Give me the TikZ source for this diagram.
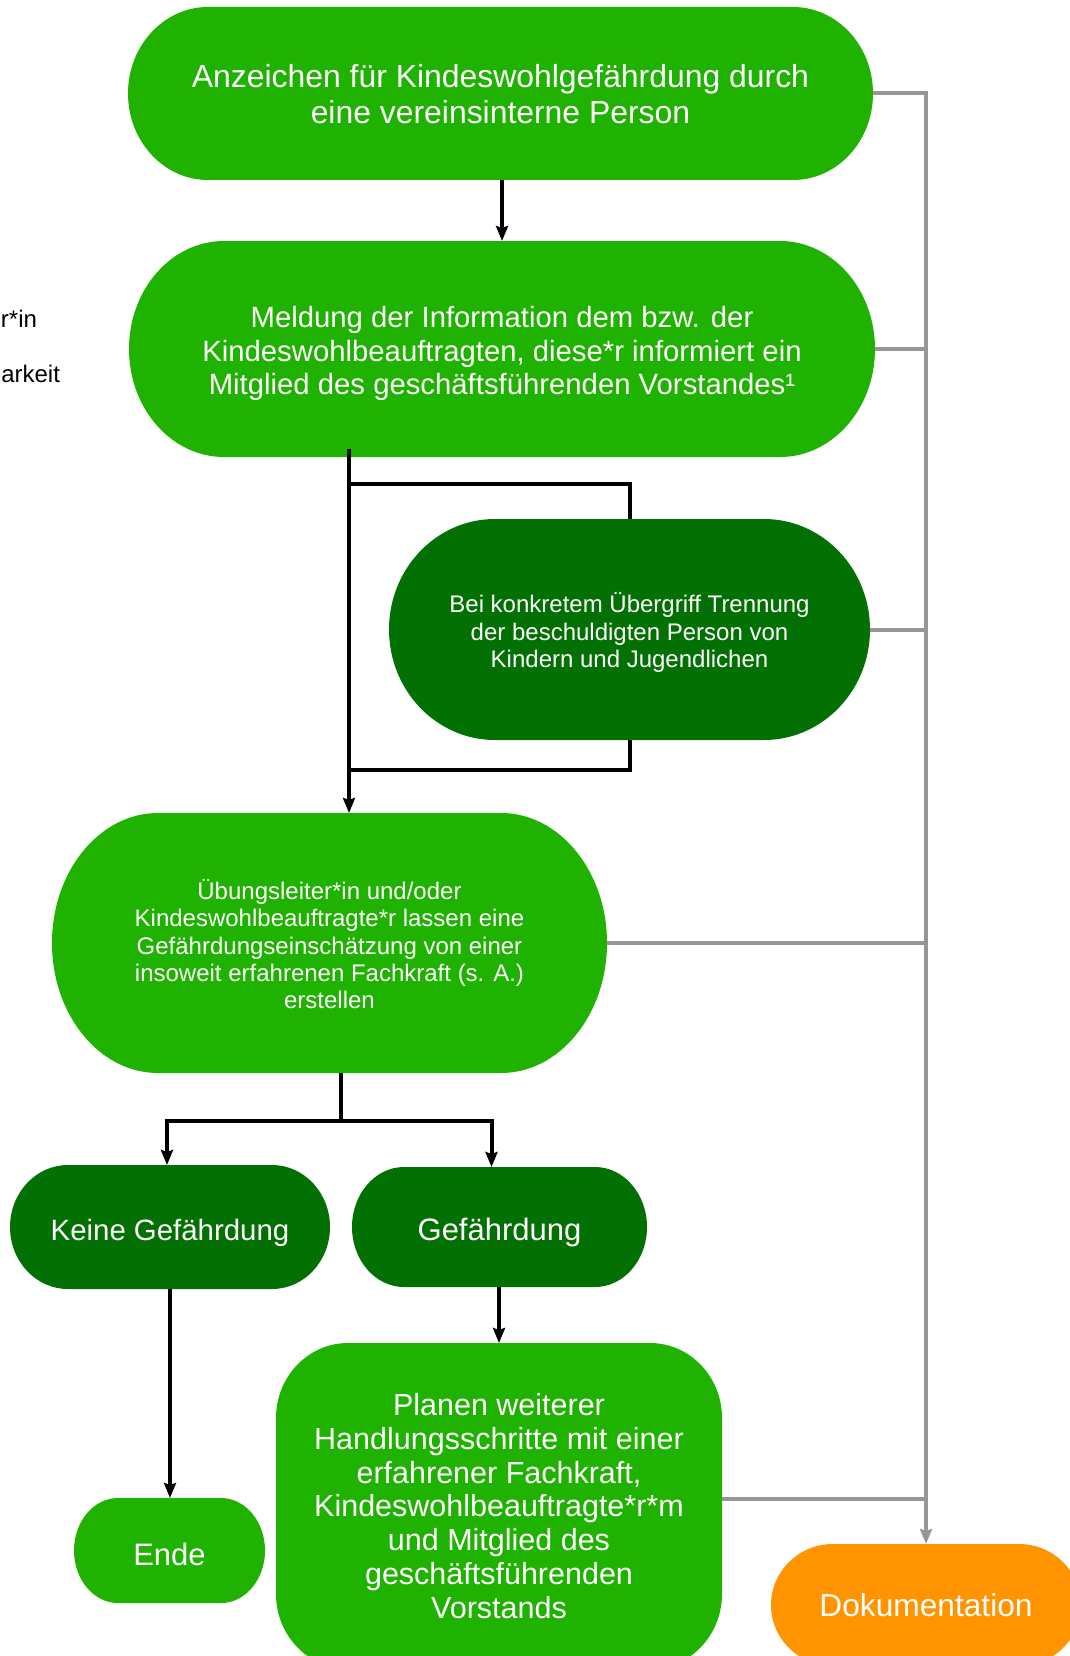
\documentclass[tikz,border=0pt]{standalone}
\usepackage{fontspec}
\setmainfont{Liberation Sans}
\usetikzlibrary{arrows.meta,calc}
\pgfdeclarelayer{bg}
\pgfsetlayers{bg,main}
\definecolor{gA}{RGB}{31,178,0}
\definecolor{gD}{RGB}{2,112,2}
\definecolor{orA}{RGB}{255,148,0}
\definecolor{grL}{RGB}{150,150,150}
\newcommand\pillshape[4]{%
  \begin{pgfonlayer}{bg}
  \fill[#4] ([xshift=#2]#1.north west) -- ([xshift=-#2]#1.north east)
     arc[start angle=90, end angle=0, x radius=#2, y radius=#3]
     -- ([yshift=#3]#1.south east)
     arc[start angle=0, end angle=-90, x radius=#2, y radius=#3]
     -- ([xshift=#2]#1.south west)
     arc[start angle=270, end angle=180, x radius=#2, y radius=#3]
     -- ([yshift=-#3]#1.north west)
     arc[start angle=180, end angle=90, x radius=#2, y radius=#3]
     -- cycle;
  \end{pgfonlayer}}
\newcommand\dn[2]{\raisebox{-#1}[\height][\depth]{\begin{tabular}{@{}c@{}}#2\end{tabular}}}
\begin{document}
\begin{tikzpicture}[x=1pt,y=-1pt,
  box/.style={draw=none, inner sep=0pt, outer sep=0pt, text=white, align=center},
  blk/.style={draw=black, line width=4pt},
  blkarr/.style={blk, -{Stealth[length=15pt,width=12pt,inset=2pt]}},
  gry/.style={draw=grL, line width=4pt},
  gryarr/.style={gry, -{Stealth[length=15pt,width=12pt,inset=2pt]}},
  frag/.style={anchor=base east, inner sep=0pt, outer sep=0pt, text=black, font=\fontsize{24}{27}\selectfont}
]
\useasboundingbox (0,0) rectangle (1070,1656);
\clip (0,0) rectangle (1070,1656);

% nodes
\node[box, minimum width=745pt, minimum height=173pt, font=\fontsize{31.9}{36}\selectfont] (A) at (500.5,93.5)
  {\dn{5.2pt}{Anzeichen für Kindeswohlgefährdung durch\\eine vereinsinterne Person}};
\node[box, minimum width=746pt, minimum height=216pt, font=\fontsize{29.3}{33.3}\selectfont] (B) at (502,349)
  {\dn{5.6pt}{Meldung der Information dem bzw. der\\Kindeswohlbeauftragten, diese*r informiert ein\\Mitglied des geschäftsführenden Vorstandes¹}};
\node[box, minimum width=481pt, minimum height=221pt, font=\fontsize{24}{27.5}\selectfont] (C) at (629.5,629.5)
  {\dn{5pt}{Bei konkretem Übergriff Trennung\\der beschuldigten Person von\\Kindern und Jugendlichen}};
\node[box, minimum width=555pt, minimum height=260pt, font=\fontsize{24}{27.2}\selectfont] (D) at (329.5,943)
  {\dn{5.2pt}{Übungsleiter*in und/oder\\Kindeswohlbeauftragte*r lassen eine\\Gefährdungseinschätzung von einer\\insoweit erfahrenen Fachkraft (s. A.)\\erstellen}};
\node[box, minimum width=320pt, minimum height=124pt, font=\fontsize{29.4}{33}\selectfont] (E) at (170,1227)
  {\dn{7pt}{Keine Gefährdung}};
\node[box, minimum width=295pt, minimum height=120pt, font=\fontsize{31}{35}\selectfont] (F) at (499.5,1227)
  {\dn{6pt}{Gefährdung}};
\node[box, minimum width=191pt, minimum height=105pt, font=\fontsize{31}{35}\selectfont] (G) at (169.5,1550.5)
  {\dn{8.2pt}{Ende}};
\node[box, minimum width=446pt, minimum height=326pt, font=\fontsize{30.5}{33.7}\selectfont] (H) at (499,1506)
  {Planen weiterer\\Handlungsschritte mit einer\\erfahrener Fachkraft,\\Kindeswohlbeauftragte*r*m\\und Mitglied des\\geschäftsführenden\\Vorstands};
\node[box, minimum width=310pt, minimum height=122pt, font=\fontsize{31.7}{36}\selectfont] (I) at (926,1605)
  {Dokumentation};

\node[frag] (f1) at (37,327) {r*in};
\node[frag] (f2) at (60,382) {arkeit};

% shapes
\pillshape{A}{80pt}{86.5pt}{gA}
\pillshape{B}{95pt}{108pt}{gA}
\pillshape{C}{106pt}{110.5pt}{gD}
\pillshape{D}{106pt}{130pt}{gA}
\pillshape{E}{58pt}{62pt}{gD}
\pillshape{F}{52pt}{60pt}{gD}
\pillshape{G}{44pt}{52.5pt}{gA}
\pillshape{H}{72pt}{75pt}{gA}
\pillshape{I}{62pt}{61pt}{orA}

% gray documentation connectors
\draw[gryarr] (A.east) -| (I.north);
\draw[gry] (B.east) -- (B.east -| I.north);
\draw[gry] (C.east) -- (C.east -| I.north);
\draw[gry] (D.east) -- (D.east -| I.north);
\draw[gry] ([yshift=7pt]H.east) -- ([yshift=7pt]H.east -| I.north);

% black flow connectors
\coordinate (s1) at ([xshift=-153pt,yshift=8pt]B.south);
\coordinate (j1) at (349,484);
\coordinate (j2) at (349,770);
\coordinate (d1) at ([xshift=11.5pt]D.south);
\coordinate (d2) at (341,1121);

\draw[blkarr] (A.south -| B.north) -- (B.north);
\draw[blkarr] (s1) -- (s1 |- D.north);
\draw[blk] (j1) -| (C.north);
\draw[blk] (C.south) |- (j2);
\draw[blk] (d1) -- (d2);
\draw[blkarr] (d2) -| ([xshift=-3pt]E.north);
\draw[blkarr] (d2) -| ([xshift=-8pt]F.north);
\draw[blkarr] (E.south) -- (E.south |- G.north);
\draw[blkarr] (F.south -| H.north) -- (H.north);
\end{tikzpicture}
\end{document}
